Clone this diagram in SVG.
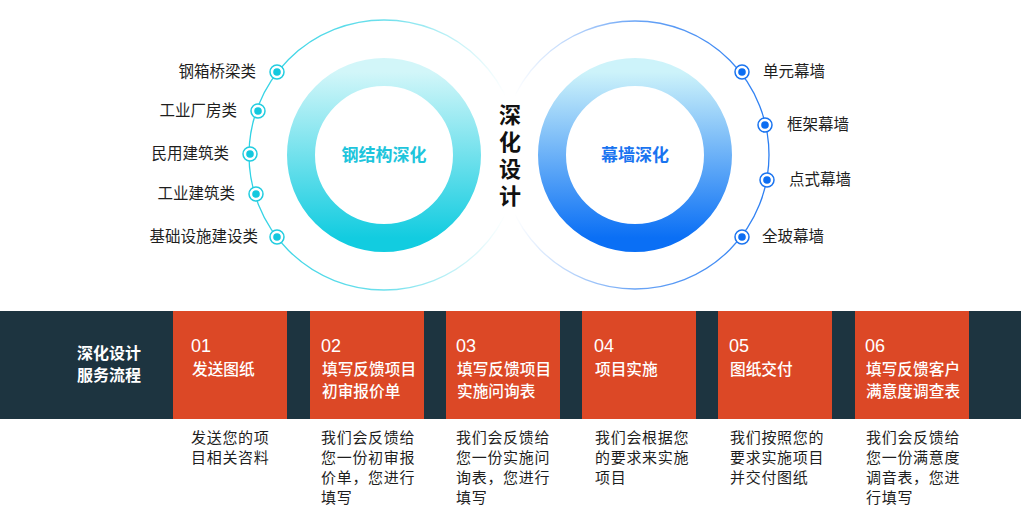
<svg xmlns="http://www.w3.org/2000/svg" width="1021" height="523" viewBox="0 0 1021 523">
<defs>
<linearGradient id="gL" x1="0" y1="0" x2="0" y2="1"><stop offset="0" stop-color="#d2f6f9"/><stop offset="1" stop-color="#12cce0"/></linearGradient>
<linearGradient id="gR" x1="0" y1="0" x2="0" y2="1"><stop offset="0" stop-color="#cdf3fa"/><stop offset="1" stop-color="#0a6ff5"/></linearGradient>
<linearGradient id="aL" x1="0" y1="0" x2="1" y2="0"><stop offset="0" stop-color="#2fd2e4"/><stop offset="0.5" stop-color="#2fd2e4" stop-opacity="0.7"/><stop offset="0.95" stop-color="#2fd2e4" stop-opacity="0"/></linearGradient>
<linearGradient id="aR" x1="1" y1="0" x2="0" y2="0"><stop offset="0" stop-color="#2b7ef2"/><stop offset="0.5" stop-color="#2b7ef2" stop-opacity="0.7"/><stop offset="0.95" stop-color="#2b7ef2" stop-opacity="0"/></linearGradient>
</defs>
<style>
text{font-family:"Noto Sans CJK SC","Noto Sans",sans-serif;}
.lab{font-size:15.5px;fill:#1e1e1e;}
.mkL{fill:#fff;stroke:#22cde0;stroke-width:1.5;}
.dL{fill:#14c8de;}
.mkR{fill:#fff;stroke:#1a74f0;stroke-width:1.5;}
.dR{fill:#0d6ef2;}
.box{fill:#dc4826;}
.num{font-size:18px;fill:#fff;font-family:"Liberation Sans","Noto Sans",sans-serif;}
.tt{font-size:15.7px;fill:#fff;font-weight:500;}
.ds{font-size:15px;letter-spacing:0.7px;fill:#1e1e1e;}
</style>
<rect width="1021" height="523" fill="#fff"/>
<g id="left-circle">
<circle cx="384" cy="155" r="135" fill="none" stroke="url(#aL)" stroke-width="1.3"/>
<circle cx="384" cy="155" r="83" fill="none" stroke="url(#gL)" stroke-width="28"/>
<text x="384" y="161" text-anchor="middle" font-size="17" font-weight="700" fill="#1ec5dc">钢结构深化</text>
</g>
<g id="right-circle">
<circle cx="635" cy="155" r="134" fill="none" stroke="url(#aR)" stroke-width="1.3"/>
<circle cx="635" cy="155" r="83" fill="none" stroke="url(#gR)" stroke-width="28"/>
<text x="635" y="161" text-anchor="middle" font-size="17" font-weight="700" fill="#1a74f0">幕墙深化</text>
</g>
<g id="center-title">
<text x="510" y="104" writing-mode="vertical-rl" font-size="22" font-weight="700" fill="#111" letter-spacing="5">深化设计</text>
</g>
<g id="left-items">
<g id="l1"><circle class="mkL" cx="277" cy="72" r="7"/><circle class="dL" cx="277" cy="72" r="3.8"/><text class="lab" x="256" y="77" text-anchor="end">钢箱桥梁类</text></g>
<g id="l2"><circle class="mkL" cx="258" cy="111" r="7"/><circle class="dL" cx="258" cy="111" r="3.8"/><text class="lab" x="237" y="116" text-anchor="end">工业厂房类</text></g>
<g id="l3"><circle class="mkL" cx="250" cy="154" r="7"/><circle class="dL" cx="250" cy="154" r="3.8"/><text class="lab" x="229" y="159" text-anchor="end">民用建筑类</text></g>
<g id="l4"><circle class="mkL" cx="256" cy="194" r="7"/><circle class="dL" cx="256" cy="194" r="3.8"/><text class="lab" x="235" y="199" text-anchor="end">工业建筑类</text></g>
<g id="l5"><circle class="mkL" cx="277" cy="237" r="7"/><circle class="dL" cx="277" cy="237" r="3.8"/><text class="lab" x="258" y="242" text-anchor="end">基础设施建设类</text></g>
</g>
<g id="right-items">
<g id="r1"><circle class="mkR" cx="742" cy="72" r="7"/><circle class="dR" cx="742" cy="72" r="3.8"/><text class="lab" x="763" y="77">单元幕墙</text></g>
<g id="r2"><circle class="mkR" cx="765" cy="125" r="7"/><circle class="dR" cx="765" cy="125" r="3.8"/><text class="lab" x="787" y="130">框架幕墙</text></g>
<g id="r3"><circle class="mkR" cx="767" cy="180" r="7"/><circle class="dR" cx="767" cy="180" r="3.8"/><text class="lab" x="789" y="185">点式幕墙</text></g>
<g id="r4"><circle class="mkR" cx="742" cy="237" r="7"/><circle class="dR" cx="742" cy="237" r="3.8"/><text class="lab" x="762" y="242">全玻幕墙</text></g>
</g>
<g id="band">
<rect x="0" y="311" width="1021" height="108" fill="#1d3440"/>
<text x="77" y="359" font-size="16" font-weight="700" fill="#fff"><tspan x="77">深化设计</tspan><tspan x="77" dy="22">服务流程</tspan></text>
</g>
<g id="step1"><rect class="box" x="173" y="311" width="114" height="108"/><text class="num" x="191" y="352">01</text><text class="tt" x="192" y="375">发送图纸</text>
<text class="ds" x="191" y="443"><tspan x="191">发送您的项</tspan><tspan x="191" dy="20">目相关咨料</tspan></text></g>
<g id="step2"><rect class="box" x="310" y="311" width="114" height="108"/><text class="num" x="321" y="352">02</text><text class="tt" x="322" y="375"><tspan x="322">填写反馈项目</tspan><tspan x="322" dy="22">初审报价单</tspan></text>
<text class="ds" x="321" y="443"><tspan x="321">我们会反馈给</tspan><tspan x="321" dy="20">您一份初审报</tspan><tspan x="321" dy="20">价单，您进行</tspan><tspan x="321" dy="20">填写</tspan></text></g>
<g id="step3"><rect class="box" x="446" y="311" width="114" height="108"/><text class="num" x="456" y="352">03</text><text class="tt" x="457" y="375"><tspan x="457">填写反馈项目</tspan><tspan x="457" dy="22">实施问询表</tspan></text>
<text class="ds" x="456" y="443"><tspan x="456">我们会反馈给</tspan><tspan x="456" dy="20">您一份实施问</tspan><tspan x="456" dy="20">询表，您进行</tspan><tspan x="456" dy="20">填写</tspan></text></g>
<g id="step4"><rect class="box" x="582" y="311" width="114" height="108"/><text class="num" x="594" y="352">04</text><text class="tt" x="595" y="375">项目实施</text>
<text class="ds" x="595" y="443"><tspan x="595">我们会根据您</tspan><tspan x="595" dy="20">的要求来实施</tspan><tspan x="595" dy="20">项目</tspan></text></g>
<g id="step5"><rect class="box" x="718" y="311" width="114" height="108"/><text class="num" x="729" y="352">05</text><text class="tt" x="730" y="375">图纸交付</text>
<text class="ds" x="730" y="443"><tspan x="730">我们按照您的</tspan><tspan x="730" dy="20">要求实施项目</tspan><tspan x="730" dy="20">并交付图纸</tspan></text></g>
<g id="step6"><rect class="box" x="855" y="311" width="114" height="108"/><text class="num" x="865" y="352">06</text><text class="tt" x="866" y="375"><tspan x="866">填写反馈客户</tspan><tspan x="866" dy="22">满意度调查表</tspan></text>
<text class="ds" x="866" y="443"><tspan x="866">我们会反馈给</tspan><tspan x="866" dy="20">您一份满意度</tspan><tspan x="866" dy="20">调音表，您进</tspan><tspan x="866" dy="20">行填写</tspan></text></g>
</svg>
